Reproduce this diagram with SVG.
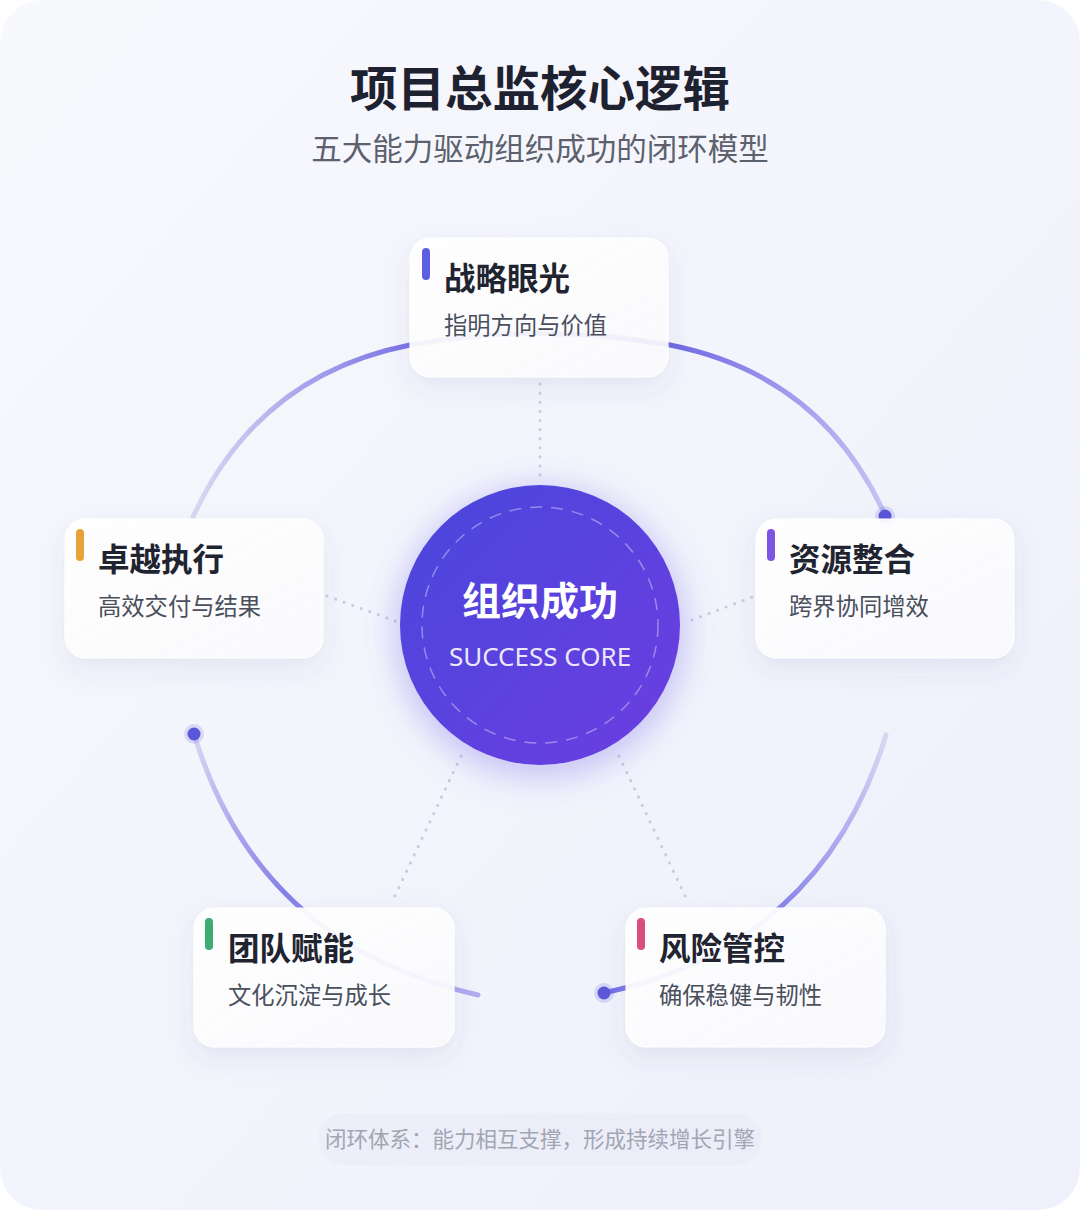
<svg xmlns="http://www.w3.org/2000/svg" width="1080" height="1210" viewBox="0 0 1080 1210">
  <defs>
    <linearGradient id="bg" x1="0" y1="0" x2="1" y2="1">
      <stop offset="0" stop-color="#f8f9fd"/>
      <stop offset="1" stop-color="#eef0fb"/>
    </linearGradient>
    <linearGradient id="core" x1="0" y1="0" x2="1" y2="1">
      <stop offset="0" stop-color="#4847db"/>
      <stop offset="1" stop-color="#6d3de2"/>
    </linearGradient>
    <linearGradient id="gTop" gradientUnits="userSpaceOnUse" x1="193" y1="0" x2="885" y2="0">
      <stop offset="0" stop-color="#d9d9f3"/>
      <stop offset="0.31" stop-color="#7b74e6"/>
      <stop offset="0.5" stop-color="#6e67e1"/>
      <stop offset="0.69" stop-color="#7069e2"/>
      <stop offset="1" stop-color="#c6c3f3"/>
    </linearGradient>
    <linearGradient id="gBL" gradientUnits="userSpaceOnUse" x1="194" y1="734" x2="478" y2="995">
      <stop offset="0" stop-color="#d8d8f3"/>
      <stop offset="0.45" stop-color="#8780e8"/>
      <stop offset="1" stop-color="#b3aef0"/>
    </linearGradient>
    <linearGradient id="gBR" gradientUnits="userSpaceOnUse" x1="886" y1="735" x2="604" y2="993">
      <stop offset="0" stop-color="#d8d8f3"/>
      <stop offset="0.5" stop-color="#8c86e9"/>
      <stop offset="1" stop-color="#7a73e6"/>
    </linearGradient>
    <linearGradient id="cardFill" x1="0" y1="0" x2="1" y2="1">
      <stop offset="0" stop-color="#ffffff" stop-opacity="0.95"/>
      <stop offset="1" stop-color="#fbfbfe" stop-opacity="0.9"/>
    </linearGradient>
    <filter id="shadow" x="-20%" y="-20%" width="140%" height="160%">
      <feDropShadow dx="0" dy="10" stdDeviation="13" flood-color="#4d5290" flood-opacity="0.11"/>
    </filter>
    <filter id="glow" x="-40%" y="-40%" width="180%" height="180%">
      <feGaussianBlur stdDeviation="16"/>
    </filter>
    <style>
      .card { fill: url(#cardFill); stroke: #ffffff; stroke-width: 1; filter: url(#shadow); }
      .ctitle { font-family: "Noto Sans CJK SC", "Noto Sans", sans-serif; font-weight: 700; font-size: 31.5px; fill: #1f2430; }
      .csub { font-family: "Noto Sans CJK SC", "Noto Sans", sans-serif; font-weight: 400; font-size: 23.3px; fill: #4a4f5c; }
      .arc { fill: none; stroke-width: 5; stroke-linecap: round; }
      .dotted { fill: none; stroke: #c9cce0; stroke-width: 3; stroke-linecap: round; stroke-dasharray: 0.1 9; }
      .dot { fill: #5a58d8; }
      .halo { fill: #5a58d8; fill-opacity: 0.18; }
    </style>
  </defs>

  <rect x="0" y="0" width="1080" height="1210" fill="#ffffff"/>
  <rect x="0" y="0" width="1080" height="1210" rx="42" fill="url(#bg)"/>

  <g id="header">
    <text x="540" y="106" text-anchor="middle" font-family="Noto Sans CJK SC, Noto Sans, sans-serif" font-weight="700" font-size="47.5" fill="#1e2230">项目总监核心逻辑</text>
    <text x="540" y="160" text-anchor="middle" font-family="Noto Sans CJK SC, Noto Sans, sans-serif" font-weight="400" font-size="30.5" fill="#5d616d">五大能力驱动组织成功的闭环模型</text>
  </g>

  <g id="connectors">
    <path class="arc" stroke="url(#gTop)" d="M193,517 Q258,375 410,345 Q540,322 670,345 Q822,375 885,515"/>
    <path class="arc" stroke="url(#gBL)" d="M194,734 Q258,945 478,995"/>
    <path class="arc" stroke="url(#gBR)" d="M886,735 Q822,945 604,993"/>
    <circle class="halo" cx="885" cy="516" r="10"/>
    <circle class="dot" cx="885" cy="516" r="6.5"/>
    <circle class="halo" cx="194" cy="734" r="10"/>
    <circle class="dot" cx="194" cy="734" r="6.5"/>
    <circle class="halo" cx="604" cy="993" r="10"/>
    <circle class="dot" cx="604" cy="993" r="6.5"/>
    <path class="dotted" d="M540,384 L540,484"/>
    <path class="dotted" d="M327,596 L398,622"/>
    <path class="dotted" d="M692,620 L755,596"/>
    <path class="dotted" d="M461,756 L392,902"/>
    <path class="dotted" d="M619,756 L688,902"/>
  </g>

  <g id="core-node">
    <circle cx="540" cy="632" r="146" fill="#6a5ce6" fill-opacity="0.32" filter="url(#glow)"/>
    <circle cx="540" cy="625" r="140" fill="url(#core)"/>
    <circle cx="540" cy="625" r="118" fill="none" stroke="#ffffff" stroke-opacity="0.38" stroke-width="1.5" stroke-dasharray="12 9"/>
    <text x="540" y="615" text-anchor="middle" font-family="Noto Sans CJK SC, Noto Sans, sans-serif" font-weight="700" font-size="39" fill="#ffffff">组织成功</text>
    <text x="540" y="666" text-anchor="middle" font-family="Noto Sans, Open Sans, sans-serif" font-weight="400" font-size="26" fill="#ffffff" fill-opacity="0.9">SUCCESS CORE</text>
  </g>

  <g id="node-strategy">
    <rect class="card" x="410" y="238" width="258" height="139" rx="20"/>
    <rect x="422" y="248" width="8" height="32" rx="4" fill="#5b5fe0"/>
    <text class="ctitle" x="444" y="290">战略眼光</text>
    <text class="csub" x="444" y="334">指明方向与价值</text>
  </g>

  <g id="node-execution">
    <rect class="card" x="65" y="519" width="258" height="139" rx="20"/>
    <rect x="76" y="529" width="8" height="32" rx="4" fill="#e8a23a"/>
    <text class="ctitle" x="98" y="571">卓越执行</text>
    <text class="csub" x="98" y="615">高效交付与结果</text>
  </g>

  <g id="node-resource">
    <rect class="card" x="756" y="519" width="258" height="139" rx="20"/>
    <rect x="767" y="529" width="8" height="32" rx="4" fill="#7c55e2"/>
    <text class="ctitle" x="789" y="571">资源整合</text>
    <text class="csub" x="789" y="615">跨界协同增效</text>
  </g>

  <g id="node-team">
    <rect class="card" x="194" y="908" width="260" height="139" rx="20"/>
    <rect x="205" y="918" width="8" height="32" rx="4" fill="#3dac72"/>
    <text class="ctitle" x="228" y="960">团队赋能</text>
    <text class="csub" x="228" y="1004">文化沉淀与成长</text>
  </g>

  <g id="node-risk">
    <rect class="card" x="626" y="908" width="259" height="139" rx="20"/>
    <rect x="637" y="918" width="8" height="32" rx="4" fill="#dc4d7f"/>
    <text class="ctitle" x="659" y="960">风险管控</text>
    <text class="csub" x="659" y="1004">确保稳健与韧性</text>
  </g>

  <g id="footer">
    <rect x="318" y="1113" width="444" height="52" rx="26" fill="#e9ebf8" fill-opacity="0.7"/>
    <text x="540" y="1147" text-anchor="middle" font-family="Noto Sans CJK SC, Noto Sans, sans-serif" font-weight="400" font-size="21.5" fill="#a2a5b2">闭环体系：能力相互支撑，形成持续增长引擎</text>
  </g>
</svg>
